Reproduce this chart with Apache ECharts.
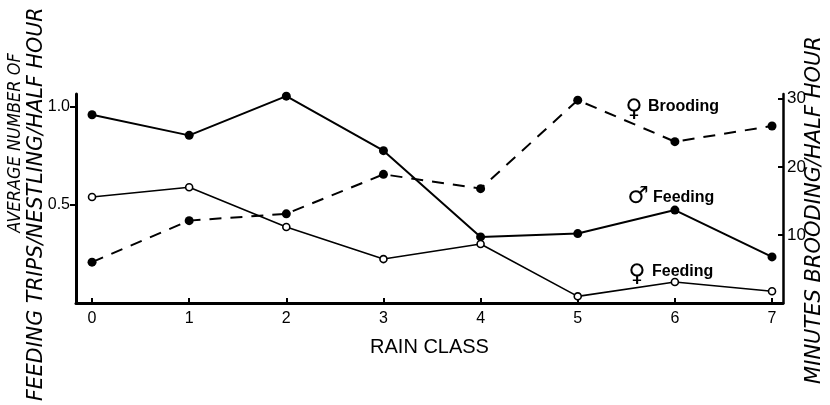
<!DOCTYPE html>
<html>
<head>
<meta charset="utf-8">
<script src="https://cdn.jsdelivr.net/npm/echarts@6/dist/echarts.min.js"></script>
<style>
html,body{margin:0;padding:0;background:#fff;}
#chart{width:830px;height:405px;}
</style>
</head>
<body>
<div id="chart"></div>
<script>
// ---- data ----
const rainClass = [0, 1, 2, 3, 4, 5, 6, 7];
const maleFeeding = [0.96, 0.855, 1.055, 0.777, 0.337, 0.354, 0.474, 0.235];
const femaleFeeding = [0.541, 0.59, 0.388, 0.224, 0.301, 0.034, 0.107, 0.06];
const femaleBrooding = [6.0, 12.1, 13.1, 18.9, 16.8, 29.8, 23.7, 26.0];
const leftTicks = [0.5, 1.0];
const rightTicks = [10, 20, 30];
const xTicks = [0, 1, 2, 3, 4, 5, 6, 7];

const pairs = (ys) => rainClass.map((x, i) => [x, ys[i]]);

const chart = echarts.init(document.getElementById('chart'), null, {renderer: 'canvas'});
const FONT = '"Liberation Sans", Arial, sans-serif';
const TFONT = '"DejaVu Sans", sans-serif';
const NFONT = '"Liberation Sans Narrow", "DejaVu Sans Condensed", "Liberation Sans", sans-serif';

chart.setOption({
  animation: false,
  backgroundColor: '#fff',
  grid: {left: 76, right: 47, top: 94, bottom: 102, containLabel: false},
  xAxis: {
    type: 'value', min: -0.165, max: 7.113,
    axisLine: {show: true, onZero: false, lineStyle: {color: '#000', width: 3}},
    axisTick: {show: true, inside: true, length: 5, lineStyle: {color: '#000', width: 2}, customValues: xTicks},
    axisLabel: {show: true, customValues: xTicks, color: '#000', fontSize: 16, fontFamily: FONT, margin: 8},
    splitLine: {show: false},
    name: 'RAIN CLASS', nameLocation: 'middle', nameGap: 34,
    nameTextStyle: {color: '#000', fontSize: 20, fontFamily: FONT}
  },
  yAxis: [{
    type: 'value', min: 0, max: 1.066, position: 'left',
    axisLine: {show: true, onZero: false, lineStyle: {color: '#000', width: 3}},
    axisTick: {show: true, inside: false, length: 6, lineStyle: {color: '#000', width: 2}, customValues: leftTicks},
    axisLabel: {show: true, customValues: leftTicks, formatter: v => v.toFixed(1), color: '#000', fontSize: 16, fontFamily: FONT, margin: 6},
    splitLine: {show: false}
  }, {
    type: 'value', min: 0, max: 30.7, position: 'right',
    axisLine: {show: true, onZero: false, lineStyle: {color: '#000', width: 2.5}},
    axisTick: {show: true, inside: true, length: 5, lineStyle: {color: '#000', width: 2}, customValues: rightTicks},
    axisLabel: {show: true, customValues: rightTicks, color: '#000', fontSize: 17, fontFamily: FONT, margin: 4},
    splitLine: {show: false}
  }],
  series: [{
    name: 'Male feeding', type: 'line', yAxisIndex: 0, data: pairs(maleFeeding),
    symbol: 'circle', symbolSize: 9,
    lineStyle: {color: '#000', width: 2},
    itemStyle: {color: '#000'}
  }, {
    name: 'Female feeding', type: 'line', yAxisIndex: 0, data: pairs(femaleFeeding),
    symbol: 'circle', symbolSize: 7,
    lineStyle: {color: '#000', width: 1.6},
    itemStyle: {color: '#fff', borderColor: '#000', borderWidth: 1.6}
  }, {
    name: 'Female brooding', type: 'line', yAxisIndex: 1, data: pairs(femaleBrooding),
    symbol: 'circle', symbolSize: 9,
    lineStyle: {color: '#000', width: 2, type: [12, 9]},
    itemStyle: {color: '#000'}
  }],
  graphic: [
    {type: 'text', x: 15, y: 143, rotation: Math.PI / 2,
     style: {text: 'AVERAGE NUMBER OF', font: 'italic 18px ' + NFONT, fill: '#000', textAlign: 'center', textVerticalAlign: 'middle'}},
    {type: 'text', x: 37, y: 401, rotation: Math.PI / 2,
     style: {text: 'FEEDING TRIPS/NESTLING/HALF HOUR', font: 'italic 20.6px ' + TFONT, fill: '#000', textAlign: 'left', textVerticalAlign: 'middle'}},
    {type: 'text', x: 815, y: 210, rotation: Math.PI / 2,
     style: {text: 'MINUTES BROODING/HALF HOUR', font: 'italic 21px ' + TFONT, fill: '#000', textAlign: 'center', textVerticalAlign: 'middle'}},
    {type: 'text', x: 634, y: 110,
     style: {text: '\u2640', font: '24px ' + TFONT, fill: '#000', textAlign: 'center', textVerticalAlign: 'middle'}},
    {type: 'text', x: 648, y: 107,
     style: {text: 'Brooding', font: 'bold 16px ' + FONT, fill: '#000', textAlign: 'left', textVerticalAlign: 'middle'}},
    {type: 'text', x: 638, y: 197,
     style: {text: '\u2642', font: '24px ' + TFONT, fill: '#000', textAlign: 'center', textVerticalAlign: 'middle'}},
    {type: 'text', x: 653, y: 198,
     style: {text: 'Feeding', font: 'bold 16px ' + FONT, fill: '#000', textAlign: 'left', textVerticalAlign: 'middle'}},
    {type: 'text', x: 637, y: 275,
     style: {text: '\u2640', font: '24px ' + TFONT, fill: '#000', textAlign: 'center', textVerticalAlign: 'middle'}},
    {type: 'text', x: 652, y: 272,
     style: {text: 'Feeding', font: 'bold 16px ' + FONT, fill: '#000', textAlign: 'left', textVerticalAlign: 'middle'}}
  ]
});
</script>
</body>
</html>
